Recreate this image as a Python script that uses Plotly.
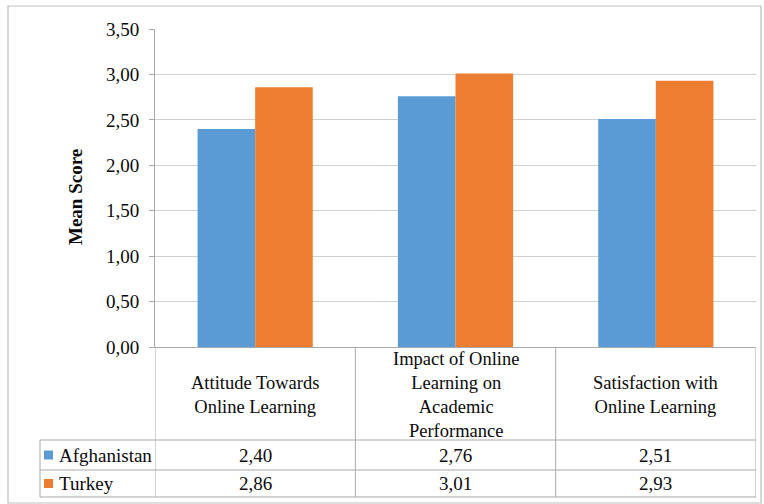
import plotly.graph_objects as go

# Chart data
categories = [
    "Attitude Towards Online Learning",
    "Impact of Online Learning on Academic Performance",
    "Satisfaction with Online Learning",
]
category_labels = [
    "Attitude Towards<br>Online Learning",
    "Impact of Online<br>Learning on<br>Academic<br>Performance",
    "Satisfaction with<br>Online Learning",
]
series_names = ["Afghanistan", "Turkey"]
afghanistan = [2.40, 2.76, 2.51]
turkey = [2.86, 3.01, 2.93]
series_values = [afghanistan, turkey]
series_colors = ["#5B9BD5", "#ED7D31"]
y_ticks = [0.0, 0.5, 1.0, 1.5, 2.0, 2.5, 3.0, 3.5]

# Canvas geometry (pixels)
W, H = 764, 504
PLOT_L, PLOT_R, PLOT_T, PLOT_B = 155, 756, 29, 347
FONT = "Liberation Serif"
TEXT = "#0A0A0A"
LINE = "#A9A9A9"
SIZE = 19
HEADER_SIZE = 18.5


def px(x):
    return (x - PLOT_L) / (PLOT_R - PLOT_L)


def py(y):
    return (PLOT_B - y) / (PLOT_B - PLOT_T)


def fmt(v):
    return f"{v:.2f}".replace(".", ",")


fig = go.Figure()
for name, vals, color in zip(series_names, series_values, series_colors):
    fig.add_trace(go.Bar(
        x=categories, y=vals, name=name,
        marker=dict(color=color, line=dict(width=0)),
        hoverinfo="skip",
    ))

shapes = []
annotations = []

# Data table below the plot area
header_bottom, row1_bottom, table_bottom = 440, 470, 497
legend_left = 40
for xb in [-0.5, 0.5, 1.5, 2.5]:
    shapes.append(dict(type="line", xref="x", yref="paper",
                       x0=xb, x1=xb, y0=py(PLOT_B), y1=py(table_bottom),
                       line=dict(color=LINE, width=1)))
shapes.append(dict(type="line", xref="paper", yref="paper",
                   x0=px(legend_left), x1=px(legend_left),
                   y0=py(header_bottom), y1=py(table_bottom),
                   line=dict(color=LINE, width=1)))
for yb in [header_bottom, row1_bottom, table_bottom]:
    shapes.append(dict(type="line", xref="paper", yref="paper",
                       x0=px(legend_left), x1=1, y0=py(yb), y1=py(yb),
                       line=dict(color=LINE, width=1)))

# Outer chart border
shapes.append(dict(type="rect", xref="paper", yref="paper",
                   x0=px(8), x1=px(761), y0=py(6), y1=py(503),
                   line=dict(color="#BDBDBD", width=1.2)))

# Category labels in the table header row
for i, lab in enumerate(category_labels):
    annotations.append(dict(x=i, y=py((PLOT_B + header_bottom) / 2 + 1),
                            xref="x", yref="paper", text=lab,
                            showarrow=False, xanchor="center", yanchor="middle",
                            font=dict(family=FONT, size=HEADER_SIZE, color=TEXT)))

# Series rows: legend key, name and values
row_centers = [(header_bottom + row1_bottom) / 2, (row1_bottom + table_bottom) / 2]
for name, vals, color, yc in zip(series_names, series_values, series_colors, row_centers):
    shapes.append(dict(type="rect", xref="paper", yref="paper",
                       x0=px(44), x1=px(53), y0=py(yc - 4.5), y1=py(yc + 4.5),
                       fillcolor=color, line=dict(width=0)))
    annotations.append(dict(x=px(57), y=py(yc), xref="paper", yref="paper",
                            text=name, showarrow=False, xanchor="left",
                            yanchor="middle",
                            font=dict(family=FONT, size=SIZE, color=TEXT)))
    for i, v in enumerate(vals):
        annotations.append(dict(x=i, y=py(yc), xref="x", yref="paper",
                                text=fmt(v), showarrow=False,
                                xanchor="center", yanchor="middle",
                                font=dict(family=FONT, size=SIZE, color=TEXT)))

# Vertical axis title
annotations.append(dict(x=px(75), y=py(197), xref="paper", yref="paper",
                        text="<b>Mean Score</b>", textangle=-90,
                        showarrow=False, xanchor="center", yanchor="middle",
                        font=dict(family=FONT, size=SIZE, color=TEXT)))

fig.update_layout(
    width=W, height=H,
    margin=dict(l=PLOT_L, r=W - PLOT_R, t=PLOT_T, b=H - PLOT_B, pad=0),
    paper_bgcolor="white", plot_bgcolor="white",
    barmode="group", bargap=0.425, bargroupgap=0,
    showlegend=False,
    separators=", ",
    font=dict(family=FONT, size=SIZE, color=TEXT),
    shapes=shapes, annotations=annotations,
    xaxis=dict(showticklabels=False, ticks="", showgrid=False,
               showline=True, linecolor=LINE, linewidth=1,
               range=[-0.5, 2.5], fixedrange=True),
    yaxis=dict(range=[0, 3.5], tickvals=y_ticks,
               ticktext=[fmt(t) for t in y_ticks],
               showgrid=True, gridcolor="#CFCFCF", gridwidth=1,
               showline=True, linecolor=LINE, linewidth=1,
               ticks="outside", ticklen=5, tickcolor=LINE,
               ticklabelstandoff=6, zeroline=False,
               tickfont=dict(family=FONT, size=SIZE, color=TEXT)),
)

fig.write_html("out.html")
